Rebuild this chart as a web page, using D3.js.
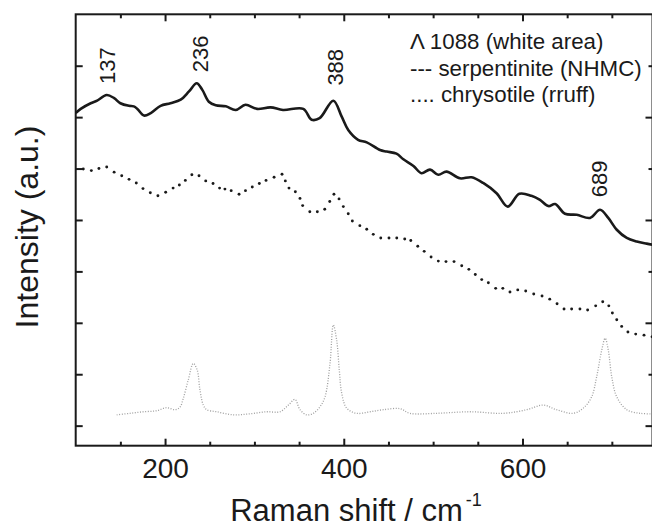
<!DOCTYPE html>
<html><head><meta charset="utf-8">
<script src="https://cdn.jsdelivr.net/npm/d3@7"></script>
<style>html,body{margin:0;padding:0;background:#fff;} svg{display:block;font-family:"Liberation Sans",Arial,sans-serif;}</style>
</head><body><svg id="c" width="652" height="527"></svg>
<script>
const xDomain = [100, 745.5];
const yDomain = [-0.39, 8.0];
const xMajorTicks = [200, 400, 600];
const xMinorTicks = [150, 250, 300, 350, 450, 500, 550, 650, 700];
const yMajorTicks = [0, 2, 4, 6];
const yMinorTicks = [1, 3, 5, 7];

// Λ 1088 (white area) - solid
const whiteArea = [[100,6.08],[105.6,6.16],[116.8,6.27],[124,6.32],[134.7,6.43],[143,6.37],[150,6.27],[159.7,6.22],[165,6.21],[169,6.16],[176.4,6.03],[184,6.08],[195,6.22],[206,6.27],[217.5,6.34],[226.8,6.50],[235.4,6.66],[241.7,6.53],[249,6.30],[256.7,6.23],[268,6.21],[279,6.14],[290,6.24],[303,6.16],[318,6.19],[332,6.14],[354.7,6.16],[364,5.95],[373,5.98],[388.3,6.32],[397.7,6.01],[405,5.75],[416,5.56],[425.7,5.51],[440.6,5.36],[448,5.33],[459,5.29],[466.7,5.18],[478,5.05],[487,4.91],[496.5,4.98],[505.8,4.88],[515,4.94],[530,4.81],[543,4.83],[556,4.72],[571,4.52],[583.5,4.26],[596.5,4.51],[610,4.47],[619.6,4.39],[629,4.27],[636.5,4.31],[647.6,4.12],[660.7,4.10],[675.6,4.04],[686.8,4.20],[696,4.04],[705.5,3.81],[716.7,3.65],[727.9,3.58],[739,3.54],[745.5,3.52]];

// serpentinite (NHMC) - dotted
const serpentinite = [[108.5,4.99],[117.5,4.96],[126,5.00],[134.7,5.03],[143,4.93],[151.5,4.86],[159.7,4.79],[167.8,4.72],[175.3,4.61],[183.5,4.53],[192,4.47],[200.7,4.54],[209,4.62],[216,4.68],[222.7,4.77],[230,4.88],[238,4.86],[245.5,4.76],[253.7,4.71],[261,4.62],[267,4.60],[274,4.57],[282.8,4.50],[290,4.57],[297.6,4.64],[305.5,4.71],[313,4.77],[322,4.83],[330.9,4.89],[334.6,4.76],[338.7,4.62],[345.8,4.55],[351,4.42],[354,4.28],[362,4.16],[370.4,4.16],[378.7,4.21],[384.3,4.36],[389,4.50],[394.7,4.41],[399.5,4.26],[405,4.12],[409.6,3.98],[418,3.89],[425.7,3.82],[433,3.72],[441.4,3.65],[450.6,3.65],[459.3,3.65],[468.2,3.63],[475,3.60],[482.8,3.49],[490,3.39],[497.7,3.28],[505.8,3.20],[514.4,3.19],[523.4,3.19],[532,3.11],[540,3.04],[547.2,2.94],[554.4,2.84],[561.8,2.78],[570,2.67],[578,2.67],[586,2.60],[594.7,2.64],[603.6,2.62],[612.6,2.56],[621.9,2.52],[630.5,2.46],[638.7,2.37],[646.5,2.27],[655,2.27],[664.3,2.27],[672.9,2.25],[681.9,2.33],[689.8,2.41],[696.6,2.33],[700.6,2.19],[705.5,2.06],[711,1.93],[718,1.82],[726.7,1.78],[736,1.76],[745,1.73]];

// chrysotile (rruff) - light grey dotted
const chrysotile = [[145.9,0.21],[160.8,0.24],[175.7,0.27],[190.6,0.29],[201.8,0.35],[211,0.31],[216.7,0.36],[220.4,0.53],[226,0.89],[231.6,1.21],[236,1.08],[239,0.70],[242.8,0.40],[246.6,0.31],[257.8,0.27],[276.4,0.21],[295,0.23],[313.8,0.27],[328.6,0.27],[338,0.40],[345.4,0.51],[351,0.31],[358.5,0.21],[366,0.24],[373.4,0.37],[379,0.56],[384.6,1.21],[388.3,1.96],[392,1.67],[395,1.08],[397.7,0.63],[403.3,0.34],[414.5,0.24],[429.4,0.27],[444.3,0.31],[463,0.33],[474,0.24],[504,0.24],[541.3,0.27],[578.6,0.24],[604.7,0.31],[623.3,0.40],[638,0.31],[656.9,0.24],[668,0.34],[677.4,0.56],[683,0.95],[688.7,1.47],[692.5,1.70],[696,1.47],[699.9,0.95],[705.5,0.56],[716.7,0.31],[731.6,0.24],[744.7,0.23]];

const peakLabels = ["137", "236", "388", "689"];
const peakLabelX = [144, 248.4, 399.5, 694.3];
const peakLabelY = [7.0, 7.23, 6.97, 4.8];
const legendLines = ["\u039B 1088 (white area)", "--- serpentinite (NHMC)", ".... chrysotile (rruff)"];
const xTitle = "Raman shift / cm";
const xTitleSup = "-1";
const yTitle = "Intensity (a.u.)";

const L = 75.7, R = 652.5, T = 14.3, B = 445.7;
const ink = "#1a1a1a";
const svg = d3.select("#c");
const x = d3.scaleLinear().domain(xDomain).range([L, R]);
const y = d3.scaleLinear().domain(yDomain).range([B, T]);

const clip = svg.append("defs").append("clipPath").attr("id", "pc");
clip.append("rect").attr("x", L).attr("y", T).attr("width", R - L).attr("height", B - T);

const plot = svg.append("g").attr("clip-path", "url(#pc)");
const line = d3.line().x(d => x(d[0])).y(d => y(d[1])).curve(d3.curveCatmullRom.alpha(0.5));

plot.append("path").datum(chrysotile).attr("d", line)
  .attr("fill", "none").attr("stroke", "#a0a0a0").attr("stroke-width", 1.3)
  .attr("stroke-dasharray", "1 1.6");

plot.selectAll("circle.s").data(serpentinite).join("circle").attr("class", "s")
  .attr("cx", d => x(d[0])).attr("cy", d => y(d[1])).attr("r", 1.45).attr("fill", ink);

plot.append("path").datum(whiteArea).attr("d", line)
  .attr("fill", "none").attr("stroke", ink).attr("stroke-width", 2.6)
  .attr("stroke-linejoin", "round");

function styleAxis(g) {
  g.select(".domain").remove();
  g.selectAll(".tick line").attr("stroke", ink).attr("stroke-width", 2);
  g.selectAll(".tick text").attr("fill", ink);
}

// bottom
svg.append("g").attr("transform", `translate(0,${B})`)
  .call(d3.axisBottom(x).tickValues(xMajorTicks).tickSizeInner(-7).tickSizeOuter(0).tickPadding(12.6))
  .call(styleAxis)
  .call(g => g.selectAll("text").attr("font-size", 28).attr("font-family", "Liberation Sans, Arial, sans-serif"));
svg.append("g").attr("transform", `translate(0,${B})`)
  .call(d3.axisBottom(x).tickValues(xMinorTicks).tickSizeInner(-4).tickSizeOuter(0).tickFormat(""))
  .call(styleAxis);
// top
svg.append("g").attr("transform", `translate(0,${T})`)
  .call(d3.axisTop(x).tickValues(xMajorTicks).tickSizeInner(-7).tickSizeOuter(0).tickFormat(""))
  .call(styleAxis);
svg.append("g").attr("transform", `translate(0,${T})`)
  .call(d3.axisTop(x).tickValues(xMinorTicks).tickSizeInner(-4).tickSizeOuter(0).tickFormat(""))
  .call(styleAxis);
// left
svg.append("g").attr("transform", `translate(${L},0)`)
  .call(d3.axisLeft(y).tickValues(yMajorTicks.concat(yMinorTicks)).tickSizeInner(-7).tickSizeOuter(0).tickFormat(""))
  .call(styleAxis);
// right
svg.append("g").attr("transform", `translate(${R},0)`)
  .call(d3.axisRight(y).tickValues(yMajorTicks).tickSizeInner(-7).tickSizeOuter(0).tickFormat(""))
  .call(styleAxis);
svg.append("g").attr("transform", `translate(${R},0)`)
  .call(d3.axisRight(y).tickValues(yMinorTicks).tickSizeInner(-4).tickSizeOuter(0).tickFormat(""))
  .call(styleAxis);

// frame
svg.append("rect").attr("x", L).attr("y", T).attr("width", R - L).attr("height", B - T)
  .attr("fill", "none").attr("stroke", ink).attr("stroke-width", 2);

// peak labels
svg.selectAll("text.peak").data(peakLabels).join("text").attr("class", "peak")
  .attr("transform", (d, i) => `translate(${x(peakLabelX[i])},${y(peakLabelY[i])}) rotate(-90)`)
  .attr("text-anchor", "middle").attr("font-size", 22).attr("fill", ink).text(d => d);

// legend
svg.selectAll("text.leg").data(legendLines).join("text").attr("class", "leg")
  .attr("x", 410).attr("y", (d, i) => 49.3 + i * 26.2)
  .attr("font-size", 22.3).attr("fill", ink).text(d => d);

// axis titles
const xt = svg.append("text").attr("x", 356).attr("y", 521).attr("text-anchor", "middle")
  .attr("font-size", 31).attr("fill", ink);
xt.append("tspan").text(xTitle);
xt.append("tspan").attr("font-size", 18).attr("dx", 3).attr("dy", -15).text(xTitleSup);

svg.append("text").attr("transform", "translate(37.7,227) rotate(-90)")
  .attr("text-anchor", "middle").attr("font-size", 32).attr("fill", ink).text(yTitle);
</script>
</body></html>
